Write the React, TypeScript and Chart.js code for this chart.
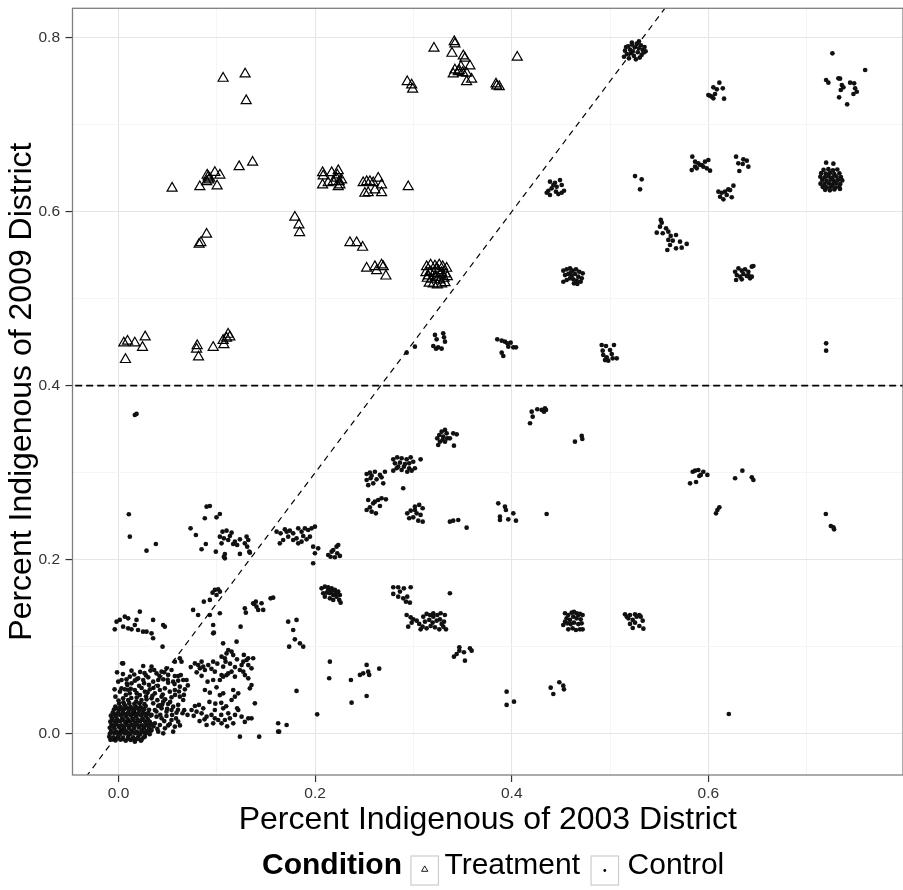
import React, { useEffect, useRef } from 'react';
import { Chart, registerables } from 'chart.js';

Chart.register(...registerables);

type Pt = [number, number];

const FONT = '"Liberation Sans", Arial, Helvetica, sans-serif';

// ---------- axes ----------
const xRange: Pt = [-0.0468, 0.798];
const yRange: Pt = [-0.0475, 0.8338];
const xMajorTicks = [0, 0.2, 0.4, 0.6];
const xMinorTicks = [0.1, 0.3, 0.5, 0.7];
const xTickLabels = ['0.0', '0.2', '0.4', '0.6'];
const yMajorTicks = [0, 0.2, 0.4, 0.6, 0.8];
const yMinorTicks = [0.1, 0.3, 0.5, 0.7];
const yTickLabels = ['0.0', '0.2', '0.4', '0.6', '0.8'];

const xTitle = 'Percent Indigenous of 2003 District';
const yTitle = 'Percent Indigenous of 2009 District';
const legendTitle = 'Condition';
const seriesNames = ['Treatment', 'Control'];

// ---------- reference lines ----------
const thresholdLine: Pt[] = [[-0.1, 0.4], [0.9, 0.4]];
const diagonalLine: Pt[] = [[-0.06, -0.09], [0.6, 0.9]];

// ---------- Treatment (triangles) ----------
const treatmentLower: Pt[] = [
  [0.0054, 0.449], [0.0092, 0.451], [0.0166, 0.449], [0.0244, 0.444], [0.0271, 0.456], [0.0071, 0.43],
  [0.08, 0.446], [0.0794, 0.442], [0.0814, 0.433], [0.0963, 0.444], [0.1064, 0.452], [0.1072, 0.447],
  [0.1115, 0.459], [0.1133, 0.456], [0.1099, 0.4545],
];
const treatmentMiddle: Pt[] = [
  [0.082, 0.5625], [0.0838, 0.5644], [0.0896, 0.574],
  [0.0545, 0.627], [0.0827, 0.6287], [0.0902, 0.642], [0.0912, 0.64], [0.0919, 0.6364], [0.0896, 0.6345],
  [0.0929, 0.6384], [0.098, 0.645], [0.1031, 0.642], [0.1003, 0.6295], [0.1227, 0.6517], [0.1364, 0.6568],
  [0.1794, 0.5936], [0.1835, 0.5847], [0.1842, 0.5759],
  [0.2076, 0.6448], [0.2082, 0.641], [0.2076, 0.6307], [0.2168, 0.6448], [0.2184, 0.6345], [0.2225, 0.6422],
  [0.2235, 0.6471], [0.2218, 0.6384], [0.2245, 0.6345], [0.2252, 0.6307], [0.2269, 0.6364], [0.2235, 0.6287],
  [0.2133, 0.6333],
  [0.2489, 0.6333], [0.2524, 0.6345], [0.2557, 0.6345], [0.2506, 0.6211], [0.254, 0.6218], [0.2608, 0.6249],
  [0.2642, 0.6384], [0.2676, 0.6307], [0.2676, 0.6218], [0.2591, 0.6333],
  [0.2947, 0.6287],
  [0.2354, 0.5644], [0.2422, 0.5644], [0.2483, 0.559],
  [0.2524, 0.535], [0.2608, 0.5368], [0.2626, 0.5322], [0.2676, 0.5387], [0.2693, 0.5368], [0.272, 0.526],
];
const treatmentUpper: Pt[] = [
  [0.1064, 0.7533], [0.1288, 0.7583], [0.1299, 0.7276],
  [0.2937, 0.7494], [0.2982, 0.7456], [0.2992, 0.7407],
  [0.3209, 0.7878], [0.3415, 0.7954], [0.3422, 0.7928], [0.3392, 0.782], [0.3507, 0.779], [0.3524, 0.7763],
  [0.3575, 0.7675], [0.3422, 0.7629], [0.3405, 0.7583], [0.3466, 0.7621], [0.3501, 0.7598], [0.3541, 0.7591],
  [0.3592, 0.7522], [0.3541, 0.7494], [0.3483, 0.7667], [0.3456, 0.7609],
  [0.4056, 0.7775], [0.384, 0.7468], [0.3873, 0.7437], [0.3847, 0.7445],
];
const treatmentCluster: Pt[] = [
  [0.3134, 0.5368], [0.3175, 0.5387], [0.3219, 0.5376], [0.3263, 0.5387], [0.3297, 0.5368], [0.3338, 0.5349],
  [0.3127, 0.5299], [0.3168, 0.531], [0.3209, 0.5291], [0.3253, 0.5322], [0.3287, 0.5299], [0.3328, 0.5284],
  [0.3141, 0.5234], [0.3185, 0.5223], [0.3229, 0.5245], [0.327, 0.5215], [0.3311, 0.5234], [0.3345, 0.5253],
  [0.3161, 0.5177], [0.3202, 0.5169], [0.3243, 0.5157], [0.3287, 0.5169], [0.3321, 0.5184], [0.3151, 0.5261],
  [0.327, 0.5272], [0.3236, 0.5349],
];

// ---------- Control (dots) ----------
const controlCore: Pt[] = [
  [-0.0082, -0.0071], [-0.0031, -0.0078], [0.0021, -0.0069], [0.0073, -0.0081], [0.0124, -0.0072], [0.0176, -0.0066], [0.0227, -0.0079],
  [-0.0094, -0.0035], [-0.0052, -0.0042], [-0.0003, -0.0031], [0.0046, -0.0044], [0.0098, -0.0036], [0.0149, -0.0041], [0.0201, -0.0033], [0.0253, -0.0045],
  [-0.0088, -0.0002], [-0.0037, 0.0006], [0.0014, -0.0008], [0.0066, 0.0003], [0.0118, -0.0005], [0.0169, 0.0007], [0.0221, -0.0004], [0.0272, 0.0005], [0.0317, -0.0006],
  [-0.0076, 0.0031], [-0.0024, 0.0024], [0.0027, 0.0036], [0.0079, 0.0027], [0.0131, 0.0033], [0.0183, 0.0025], [0.0234, 0.0037], [0.0286, 0.0029], [0.0331, 0.0034],
  [-0.0089, 0.0068], [-0.0041, 0.0062], [0.0009, 0.0071], [0.0058, 0.0059], [0.0106, 0.0067], [0.0157, 0.0061], [0.0207, 0.0072], [0.0258, 0.0064], [0.0309, 0.0069],
  [-0.0072, 0.0101], [-0.0021, 0.0108], [0.0031, 0.0097], [0.0083, 0.0105], [0.0134, 0.0099], [0.0186, 0.0107], [0.0237, 0.0096], [0.0289, 0.0103], [0.0334, 0.0109],
  [-0.0083, 0.0138], [-0.0034, 0.0131], [0.0016, 0.0142], [0.0066, 0.0134], [0.0117, 0.0139], [0.0168, 0.0128], [0.0219, 0.0141], [0.0271, 0.0133], [0.0318, 0.0137],
  [-0.0066, 0.0172], [-0.0014, 0.0166], [0.0039, 0.0176], [0.0091, 0.0169], [0.0142, 0.0174], [0.0193, 0.0165], [0.0244, 0.0177], [0.0295, 0.0168],
  [-0.0078, 0.0207], [-0.0027, 0.0201], [0.0024, 0.0211], [0.0075, 0.0203], [0.0127, 0.0209], [0.0178, 0.0198], [0.0229, 0.0212], [0.0281, 0.0204], [0.0326, 0.0208],
  [-0.0058, 0.0242], [-0.0006, 0.0236], [0.0046, 0.0247], [0.0097, 0.0238], [0.0148, 0.0244], [0.0199, 0.0235], [0.0251, 0.0246], [0.0302, 0.0239],
  [-0.0047, 0.0276], [0.0004, 0.0271], [0.0056, 0.0281], [0.0108, 0.0273], [0.0159, 0.0279], [0.0211, 0.0269], [0.0262, 0.0282], [0.0311, 0.0274],
  [-0.0032, 0.0311], [0.0019, 0.0306], [0.0071, 0.0316], [0.0122, 0.0308], [0.0174, 0.0314], [0.0226, 0.0304], [0.0277, 0.0317],
  [0.0006, 0.0346], [0.0057, 0.0341], [0.0109, 0.0351], [0.0161, 0.0343], [0.0213, 0.0349], [0.0264, 0.0339],
  [-0.0061, -0.0058], [-0.0008, -0.0055], [0.0047, -0.0061], [0.0099, -0.0057], [0.0151, -0.0062], [0.0203, -0.0056],
  [-0.0063, 0.0015], [-0.0011, 0.0013], [0.0041, 0.0017], [0.0093, 0.0012], [0.0144, 0.0016], [0.0196, 0.0013], [0.0248, 0.0018], [0.0299, 0.0014],
  [-0.0052, 0.0084], [0.0004, 0.0088], [0.0056, 0.0083], [0.0108, 0.0087], [0.0161, 0.0082], [0.0212, 0.0088], [0.0264, 0.0083], [0.0316, 0.0086],
  [-0.0058, 0.0155], [-0.0007, 0.0151], [0.0044, 0.0157], [0.0096, 0.0152], [0.0147, 0.0156], [0.0199, 0.0151], [0.0251, 0.0157], [0.0303, 0.0152],
  [-0.0043, 0.0224], [0.0009, 0.0221], [0.0061, 0.0226], [0.0112, 0.0222], [0.0164, 0.0227], [0.0215, 0.0221], [0.0267, 0.0226],
  [-0.0019, 0.0292], [0.0032, 0.0289], [0.0084, 0.0294], [0.0137, 0.0288], [0.0188, 0.0293], [0.0241, 0.0289],
];
const controlFringe: Pt[] = [
  [0.0047, 0.0808], [0.0132, 0.0724], [0.0251, 0.0778], [0.0336, 0.077], [0.0363, 0.0732], [0.0387, 0.0693],
  [0.0438, 0.0713], [0.0488, 0.0751], [0.0539, 0.0732], [0.0573, 0.0663], [0.0607, 0.0663], [0.0634, 0.0674],
  [-0.0003, 0.0598], [0.0031, 0.0617], [0.0081, 0.0625], [0.0132, 0.0579], [0.0166, 0.0609], [0.02, 0.0636],
  [0.0251, 0.0617], [0.0302, 0.0648], [0.0353, 0.0598], [0.0404, 0.0617], [0.0455, 0.0625], [0.0505, 0.0586],
  [0.0556, 0.0598], [0.0607, 0.0609], [0.0658, 0.0617], [0.0692, 0.0617],
  [0.0014, 0.0483], [0.0064, 0.051], [0.0115, 0.0464], [0.0166, 0.0502], [0.0217, 0.0444], [0.0268, 0.0483],
  [0.0319, 0.051], [0.037, 0.0464], [0.0421, 0.0502], [0.0472, 0.0521], [0.0522, 0.0483], [0.0573, 0.0502],
  [0.0624, 0.054], [0.0675, 0.051], [-0.0031, 0.0425], [0.0047, 0.0406], [0.0098, 0.0387], [0.0234, 0.0387],
  [0.0336, 0.0406], [0.0438, 0.0425], [0.0539, 0.0418], [0.0624, 0.0425],
  [0.0353, 0.0349], [0.0404, 0.0318], [0.0455, 0.0368], [0.0505, 0.0341], [0.0556, 0.031], [0.0607, 0.033],
  [0.0658, 0.0387], [0.037, 0.0272], [0.0438, 0.0291], [0.0488, 0.0253], [0.0539, 0.0272], [0.059, 0.0241],
  [0.0336, 0.0215], [0.0387, 0.0195], [0.0438, 0.0176], [0.0488, 0.0203], [0.0539, 0.0157], [0.037, 0.0119],
  [0.0421, 0.01], [0.0472, 0.0061], [0.0522, 0.0111], [0.0573, 0.008], [0.0336, 0.0042], [0.0404, 0.0023],
  [0.0455, 0.0004], [0.0556, 0.0023], [0.0607, 0.0138], [0.0268, -0.0034], [0.0234, -0.0073], [0.0166, -0.0092],
  [0.0, 0.038], [0.005, 0.036], [0.013, 0.041], [0.018, 0.037], [0.028, 0.043], [0.003, 0.052], [0.009, 0.056],
  [0.021, 0.055], [0.026, 0.058], [0.031, 0.056], [0.016, 0.068], [0.022, 0.071], [0.028, 0.067], [-0.004, 0.051],
  [0.04, 0.055], [0.045, 0.045], [0.05, 0.062], [0.057, 0.057], [0.0668, 0.027], [0.0651, 0.0235],
  [0.0075, 0.0445], [0.0125, 0.0515], [0.0185, 0.0465], [0.0235, 0.0525], [0.0295, 0.0475], [0.0345, 0.0435],
  [0.0395, 0.0385], [0.0445, 0.0335], [0.0495, 0.0285], [0.0545, 0.0215], [0.0585, 0.0175], [0.0625, 0.0095],
  [0.0385, 0.0255], [0.0425, 0.0215], [0.0465, 0.0145], [0.0505, 0.0095], [0.0355, 0.0085], [0.0395, 0.0055],
  [0.0415, 0.0325], [0.0475, 0.0395], [0.0525, 0.0365], [0.0575, 0.0445], [0.0615, 0.0485], [0.0665, 0.0445],
  [0.0705, 0.0555], [0.0115, 0.0655], [0.0185, 0.0625], [0.0265, 0.0695], [0.0325, 0.0725], [0.0415, 0.0665],
  [0.0465, 0.0705], [0.0505, 0.0675], [0.0085, 0.0575], [0.0045, 0.0685], [-0.0015, 0.0705], [0.0355, 0.0525],
  [0.0285, 0.0395], [0.0185, 0.0415], [0.0095, 0.0505], [0.0605, 0.0275],
];
const controlLeftBand: Pt[] = [
  [-0.0038, 0.12], [-0.002, 0.1287], [0.0013, 0.1307], [0.0047, 0.123], [0.0064, 0.1345], [0.0098, 0.1326],
  [0.0098, 0.1211], [0.0132, 0.12], [0.0166, 0.1249], [0.0183, 0.1307], [0.0199, 0.1192], [0.0217, 0.1402],
  [0.025, 0.1172], [0.0285, 0.1172], [0.0336, 0.1154], [0.0352, 0.1307], [0.0352, 0.1097], [0.0454, 0.1249],
  [0.0471, 0.123], [0.0448, 0.1], [0.0037, 0.0809],
  [0.0166, 0.3663], [0.0183, 0.3675], [0.0105, 0.2522], [0.0115, 0.2264], [0.0285, 0.2103], [0.038, 0.218],
];
const controlLowerMid: Pt[] = [
  [0.0777, 0.0808], [0.0811, 0.0789], [0.0845, 0.0828], [0.0862, 0.077], [0.0879, 0.0732], [0.0828, 0.0751],
  [0.0913, 0.0789], [0.0963, 0.0828], [0.098, 0.0713], [0.0963, 0.0617], [0.0906, 0.0598], [0.0879, 0.0502],
  [0.0929, 0.0471], [0.0997, 0.0533], [0.1031, 0.0617], [0.1048, 0.0674], [0.1065, 0.077], [0.1082, 0.0866],
  [0.1089, 0.0828], [0.1099, 0.0923], [0.1116, 0.0962], [0.115, 0.0943], [0.1167, 0.0904], [0.1065, 0.0655],
  [0.1099, 0.0674], [0.1116, 0.0693], [0.115, 0.0713], [0.1184, 0.0655], [0.1252, 0.0789], [0.1269, 0.0828],
  [0.1303, 0.0847], [0.132, 0.0789], [0.1353, 0.0751], [0.1269, 0.0713], [0.1286, 0.0674], [0.132, 0.0636],
  [0.1353, 0.0559], [0.1336, 0.0521], [0.1218, 0.0464], [0.1065, 0.0464], [0.1184, 0.0425], [0.1167, 0.0502],
  [0.098, 0.0272], [0.1065, 0.0291], [0.1116, 0.0234], [0.1133, 0.0176], [0.1082, 0.0157], [0.1048, 0.0119],
  [0.1014, 0.0157], [0.098, 0.0176], [0.0946, 0.0215], [0.0896, 0.0195], [0.0845, 0.0234], [0.0794, 0.0253],
  [0.0743, 0.0272], [0.0702, 0.0215], [0.0777, 0.0318], [0.0818, 0.033], [0.0862, 0.0291], [0.0896, 0.01],
  [0.0963, 0.0119], [0.1167, 0.0119], [0.1218, 0.0272], [0.1252, 0.0195], [0.132, 0.0176], [0.1353, 0.0176],
  [0.1235, -0.0034], [0.1387, 0.0349], [0.115, 0.0387], [0.1031, 0.0444],
  [0.1234, 0.0732], [0.137, 0.0867], [0.1207, 0.0292], [0.1431, -0.0034], [0.1624, 0.012], [0.171, 0.01],
  [0.1624, 0.0023], [0.1634, 0.0023], [0.1811, 0.0491], [0.2021, 0.0223], [0.215, 0.0828], [0.2143, 0.0637],
  [0.0624, 0.0866], [0.0641, 0.0828], [0.0573, 0.0828],
  [0.1064, 0.1039], [0.1201, 0.1057], [0.1319, 0.0867], [0.1048, 0.0885],
  [0.0735, 0.0765], [0.0795, 0.0705], [0.0845, 0.0665], [0.0945, 0.0745], [0.1005, 0.0805], [0.1135, 0.0805],
  [0.1205, 0.0855], [0.1275, 0.0905], [0.1185, 0.0765], [0.0925, 0.0365], [0.0985, 0.0345], [0.1045, 0.0355],
  [0.1095, 0.0315], [0.0765, 0.0205], [0.0825, 0.0145], [0.0875, 0.0165], [0.1185, 0.0215], [0.1285, 0.0135],
  [0.1045, 0.0215], [0.1105, 0.0085],
];
const controlNearDiagonal: Pt[] = [
  [0.0957, 0.1621], [0.098, 0.1652], [0.1014, 0.166], [0.1031, 0.1632], [0.0997, 0.1594], [0.0868, 0.1517],
  [0.0929, 0.1537], [0.0759, 0.1422], [0.081, 0.1364], [0.0929, 0.1364], [0.0963, 0.1249], [0.1031, 0.1384],
  [0.0963, 0.1154], [0.097, 0.1161], [0.1242, 0.123], [0.1285, 0.1441], [0.1397, 0.1517], [0.1404, 0.146],
  [0.1421, 0.1422], [0.1472, 0.1422], [0.1547, 0.1556], [0.1573, 0.1563], [0.1377, 0.1491], [0.1295, 0.1391],
  [0.137, 0.1499], [0.1455, 0.1499],
  [0.1726, 0.1287], [0.1811, 0.1307], [0.1777, 0.1192], [0.1794, 0.1085], [0.1845, 0.1039], [0.1879, 0.1],
  [0.1736, 0.1],
];
const controlBand: Pt[] = [
  [0.0896, 0.2609], [0.0929, 0.2617], [0.0878, 0.2476], [0.0997, 0.2487], [0.1031, 0.2525], [0.0733, 0.2361],
  [0.0787, 0.2284], [0.0845, 0.212], [0.0888, 0.218], [0.099, 0.2092], [0.1058, 0.2322], [0.1099, 0.2333],
  [0.115, 0.231], [0.1031, 0.2264], [0.1072, 0.2245], [0.1116, 0.2226], [0.1166, 0.218], [0.1207, 0.2169],
  [0.1235, 0.2234], [0.1303, 0.2264], [0.132, 0.2226], [0.1309, 0.2149], [0.133, 0.2092], [0.1235, 0.2066],
  [0.1048, 0.2188], [0.1133, 0.2272], [0.1184, 0.2207], [0.1285, 0.2188], [0.1072, 0.2034], [0.1082, 0.2016],
  [0.1082, 0.2065], [0.1336, 0.208],
  [0.1608, 0.2322], [0.1649, 0.2303], [0.1692, 0.2349], [0.171, 0.2322], [0.1743, 0.2333], [0.1777, 0.2303],
  [0.1828, 0.2361], [0.1862, 0.2322], [0.1896, 0.2361], [0.1929, 0.2341], [0.1964, 0.2361], [0.1998, 0.2379],
  [0.1641, 0.2188], [0.1675, 0.2226], [0.1777, 0.2226], [0.1828, 0.2188], [0.1862, 0.2207], [0.1913, 0.2234],
  [0.198, 0.2149], [0.2031, 0.2131], [0.1998, 0.2074], [0.198, 0.1959], [0.1726, 0.2264], [0.1811, 0.2246],
  [0.1879, 0.2272], [0.1947, 0.2264],
  [0.2133, 0.2054], [0.2157, 0.2034], [0.2184, 0.2111], [0.2218, 0.2149], [0.2225, 0.2074], [0.2252, 0.2043],
  [0.2201, 0.2028], [0.2235, 0.2169], [0.2168, 0.2092],
];
const controlLowClusters: Pt[] = [
  [0.2066, 0.1671], [0.2099, 0.169], [0.2133, 0.1683], [0.2168, 0.1671], [0.2201, 0.1652], [0.2235, 0.1632],
  [0.2252, 0.1594], [0.2082, 0.1614], [0.2117, 0.1621], [0.215, 0.1614], [0.2184, 0.1594], [0.2218, 0.1575],
  [0.2245, 0.1537], [0.2259, 0.1506], [0.2184, 0.1537], [0.215, 0.1556], [0.2099, 0.1575], [0.2133, 0.1652],
  [0.2168, 0.1632], [0.2211, 0.1614],
  [0.2795, 0.1683], [0.2845, 0.1683], [0.2903, 0.1671], [0.2972, 0.1683], [0.2795, 0.1606], [0.2845, 0.1575],
  [0.2896, 0.1556], [0.2924, 0.1517], [0.2964, 0.1506], [0.2863, 0.1633], [0.2937, 0.1575],
  [0.2931, 0.1364], [0.2972, 0.1338], [0.2998, 0.1315], [0.3033, 0.1299], [0.2982, 0.1276], [0.2947, 0.123],
  [0.3059, 0.1261], [0.3073, 0.12],
  [0.31, 0.1345], [0.3134, 0.1376], [0.3168, 0.1364], [0.3202, 0.1384], [0.3243, 0.1364], [0.3277, 0.1384],
  [0.332, 0.1364], [0.3117, 0.1288], [0.3161, 0.1307], [0.3195, 0.1276], [0.3236, 0.1299], [0.327, 0.1315],
  [0.3311, 0.1288], [0.3093, 0.123], [0.3134, 0.1211], [0.3175, 0.1238], [0.3219, 0.1223], [0.3263, 0.12],
  [0.3304, 0.123], [0.3331, 0.12], [0.3202, 0.1345], [0.3287, 0.1261],
  [0.3371, 0.1614],
  [0.2364, 0.0617], [0.2456, 0.0675], [0.2489, 0.0694], [0.2524, 0.079], [0.254, 0.0713], [0.255, 0.0675],
  [0.2524, 0.0433], [0.2371, 0.0356], [0.2652, 0.0747],
  [0.3412, 0.0885], [0.344, 0.0916], [0.3467, 0.0993], [0.3467, 0.0954], [0.3514, 0.0936], [0.3524, 0.0839],
  [0.3575, 0.0982], [0.3592, 0.0954],
  [0.3948, 0.0483], [0.3948, 0.033], [0.4023, 0.0368],
  [0.4396, 0.0529], [0.4423, 0.0456], [0.4484, 0.0591], [0.4524, 0.0552], [0.4531, 0.051],
  [0.6208, 0.0226],
];
const controlRightLow: Pt[] = [
  [0.4542, 0.1384], [0.4575, 0.1364], [0.461, 0.1391], [0.4633, 0.1399], [0.466, 0.1384], [0.4694, 0.1376],
  [0.4721, 0.1364], [0.4558, 0.1326], [0.4592, 0.1307], [0.4626, 0.1345], [0.466, 0.1326], [0.4701, 0.1315],
  [0.4524, 0.1249], [0.4565, 0.1268], [0.4599, 0.126], [0.4633, 0.1276], [0.4677, 0.126], [0.4711, 0.1268],
  [0.4575, 0.1199], [0.4619, 0.1211], [0.4653, 0.1192], [0.4694, 0.1199], [0.4721, 0.1199], [0.4542, 0.1288],
  [0.4677, 0.1364],
  [0.5152, 0.1372], [0.5203, 0.1364], [0.5254, 0.1372], [0.5298, 0.1364], [0.5312, 0.1345], [0.5186, 0.1326],
  [0.5231, 0.1307], [0.5332, 0.1299], [0.5203, 0.1261], [0.5254, 0.1276], [0.5298, 0.1238], [0.5339, 0.1207],
  [0.5231, 0.1215], [0.517, 0.1345], [0.5271, 0.1345],
];
const controlCenter: Pt[] = [
  [0.2524, 0.2985], [0.2557, 0.3], [0.2608, 0.3011], [0.2659, 0.2974], [0.271, 0.3011], [0.2524, 0.2916],
  [0.2564, 0.2936], [0.2625, 0.2924], [0.2676, 0.2947], [0.254, 0.2857], [0.2591, 0.2878], [0.2693, 0.2878],
  [0.2575, 0.2966],
  [0.2795, 0.3154], [0.2835, 0.3177], [0.288, 0.3166], [0.2931, 0.3154], [0.2972, 0.3177], [0.3073, 0.3154],
  [0.2812, 0.3108], [0.2863, 0.3115], [0.2914, 0.31], [0.2957, 0.3108], [0.2998, 0.3126], [0.2829, 0.3051],
  [0.288, 0.3031], [0.2937, 0.3011], [0.2982, 0.3023], [0.3015, 0.3051], [0.2795, 0.3023], [0.2845, 0.3069],
  [0.2903, 0.3069], [0.2957, 0.3051], [0.2896, 0.2821],
  [0.2524, 0.2571], [0.2557, 0.2602], [0.2591, 0.2648], [0.2642, 0.2686], [0.2676, 0.2706], [0.272, 0.2694],
  [0.254, 0.2686], [0.2575, 0.2552], [0.2618, 0.2533], [0.2659, 0.2617], [0.2608, 0.2667],
  [0.2937, 0.2533], [0.2972, 0.2563], [0.3015, 0.2609], [0.3059, 0.2629], [0.3094, 0.2591], [0.3033, 0.2533],
  [0.3073, 0.2514], [0.2957, 0.2476], [0.2998, 0.2487], [0.3049, 0.2448], [0.3094, 0.2437], [0.3015, 0.2571],
  [0.3242, 0.3395], [0.3263, 0.3433], [0.3287, 0.3471], [0.3321, 0.3491], [0.3338, 0.3453], [0.3303, 0.3414],
  [0.327, 0.3356], [0.3252, 0.3318], [0.3321, 0.3356], [0.3297, 0.3376], [0.3344, 0.3395], [0.3371, 0.3395],
  [0.3405, 0.3453], [0.344, 0.3441], [0.3412, 0.331],
  [0.3371, 0.2437], [0.3405, 0.2448], [0.3456, 0.2456], [0.3541, 0.2368],
];
const controlRightMid: Pt[] = [
  [0.4186, 0.3568], [0.4213, 0.3644], [0.4203, 0.3701], [0.426, 0.3729], [0.4305, 0.3721], [0.4328, 0.3701],
  [0.4348, 0.3721], [0.4338, 0.374],
  [0.4643, 0.3356], [0.4712, 0.3422], [0.4718, 0.3387],
  [0.3863, 0.2648], [0.3931, 0.2609], [0.3941, 0.2571], [0.388, 0.2494], [0.388, 0.2456], [0.3965, 0.2464],
  [0.4016, 0.2533], [0.4043, 0.2448], [0.4355, 0.2525],
  [0.5814, 0.2878], [0.5875, 0.2893], [0.5841, 0.3011], [0.5898, 0.3031], [0.5923, 0.2974], [0.5865, 0.3023],
  [0.5949, 0.3011], [0.599, 0.2974], [0.5908, 0.2962],
  [0.6272, 0.2936], [0.6346, 0.3023], [0.6442, 0.2947], [0.6458, 0.2916],
  [0.6078, 0.2533], [0.6092, 0.2571], [0.6112, 0.2602],
  [0.7195, 0.2525], [0.7246, 0.2387], [0.7272, 0.2372], [0.7279, 0.2349],
];
const controlAboveLine: Pt[] = [
  [0.2931, 0.4379], [0.3015, 0.4448],
  [0.3219, 0.4583], [0.3303, 0.4602], [0.3236, 0.4533], [0.3311, 0.4556], [0.3321, 0.4506], [0.3202, 0.4456],
  [0.3252, 0.4441], [0.3287, 0.4425], [0.323, 0.4425],
  [0.3853, 0.4533], [0.3898, 0.4517], [0.3931, 0.4506], [0.3955, 0.4487], [0.3989, 0.4494], [0.4016, 0.4441],
  [0.4043, 0.4441], [0.3965, 0.4448], [0.3898, 0.4379], [0.3914, 0.4341],
  [0.4915, 0.4468], [0.4959, 0.4456], [0.504, 0.4468], [0.4925, 0.4402], [0.5, 0.441], [0.4931, 0.4353],
  [0.4966, 0.4326], [0.5027, 0.4315], [0.5068, 0.4315], [0.4982, 0.4287], [0.4949, 0.4295], [0.5017, 0.4364],
  [0.7198, 0.4487], [0.7198, 0.4402],
];
const controlUpperMid: Pt[] = [
  [0.4389, 0.6345], [0.444, 0.6333], [0.4491, 0.6364], [0.4508, 0.6307], [0.4457, 0.6287], [0.4406, 0.6269],
  [0.4356, 0.6218], [0.4389, 0.6192], [0.445, 0.623], [0.4508, 0.6218], [0.4532, 0.6241], [0.4474, 0.6203],
  [0.4372, 0.6241], [0.4423, 0.6307],
  [0.5254, 0.641], [0.5322, 0.6372], [0.5305, 0.6257],
  [0.5516, 0.5905], [0.5526, 0.5874], [0.5508, 0.5828], [0.557, 0.5809], [0.5593, 0.577], [0.5475, 0.5759],
  [0.5536, 0.5752], [0.5617, 0.5721], [0.5671, 0.5732], [0.5593, 0.5675], [0.5638, 0.5667], [0.5712, 0.5655],
  [0.578, 0.5629], [0.561, 0.5617], [0.5671, 0.5579], [0.5729, 0.5586], [0.5583, 0.556],
  [0.4525, 0.5322], [0.4559, 0.5338], [0.4593, 0.5349], [0.462, 0.5322], [0.4654, 0.5338], [0.4687, 0.531],
  [0.4722, 0.5292], [0.4542, 0.5272], [0.4575, 0.5284], [0.461, 0.5261], [0.4644, 0.5284], [0.4677, 0.5253],
  [0.4712, 0.5234], [0.4525, 0.5195], [0.4559, 0.5215], [0.4593, 0.5234], [0.4633, 0.5177], [0.4667, 0.5169],
  [0.4701, 0.5195], [0.4599, 0.5299], [0.4626, 0.5223], [0.4661, 0.5207],
  [0.6272, 0.531], [0.6306, 0.5349], [0.634, 0.5322], [0.6373, 0.5338], [0.6407, 0.531], [0.6442, 0.5368],
  [0.6458, 0.5376], [0.6289, 0.5272], [0.6323, 0.5253], [0.6356, 0.5284], [0.6391, 0.5261], [0.6424, 0.5234],
  [0.6282, 0.5215], [0.634, 0.5223], [0.6407, 0.5272], [0.6442, 0.5253],
  [0.5837, 0.6632], [0.5865, 0.6575], [0.5898, 0.6556], [0.5933, 0.6537], [0.5966, 0.6575], [0.6, 0.6594],
  [0.5831, 0.6479], [0.5882, 0.6499], [0.5949, 0.6517], [0.6017, 0.6471], [0.5916, 0.6537], [0.5865, 0.6517],
  [0.5984, 0.6499],
  [0.6282, 0.6632], [0.6356, 0.6602], [0.6391, 0.6586], [0.6305, 0.6556], [0.635, 0.6548], [0.6407, 0.6517],
  [0.6315, 0.6468],
  [0.6255, 0.6299], [0.6203, 0.6257], [0.617, 0.623], [0.6136, 0.6218], [0.6102, 0.623], [0.6119, 0.6172],
  [0.6153, 0.6142], [0.6187, 0.6192], [0.6238, 0.6166], [0.6221, 0.6249],
  [0.7172, 0.6481], [0.7221, 0.6489], [0.7268, 0.6476], [0.7312, 0.6485],
  [0.7148, 0.6443], [0.7195, 0.6437], [0.7239, 0.6449], [0.7281, 0.6431], [0.7333, 0.6442],
  [0.7139, 0.6402], [0.7183, 0.6396], [0.7224, 0.6408], [0.7262, 0.6391], [0.7303, 0.6404], [0.7348, 0.6398],
  [0.7158, 0.6363], [0.7201, 0.6357], [0.7243, 0.6368], [0.7279, 0.6352], [0.7321, 0.6366], [0.7362, 0.6359],
  [0.7141, 0.6322], [0.7182, 0.6318], [0.7226, 0.6327], [0.7264, 0.6314], [0.7302, 0.6325], [0.7342, 0.6318],
  [0.7163, 0.6284], [0.7204, 0.6279], [0.7247, 0.6287], [0.7291, 0.6276], [0.7331, 0.6283],
  [0.7188, 0.6251], [0.7236, 0.6246], [0.7282, 0.6255], [0.7339, 0.6262],
  [0.7198, 0.6563], [0.7272, 0.6552],
];
const controlTop: Pt[] = [
  [0.5152, 0.7851], [0.5183, 0.7902], [0.5204, 0.7862], [0.5223, 0.7921], [0.5251, 0.7889], [0.5272, 0.7931],
  [0.5293, 0.7878], [0.5314, 0.7912], [0.5332, 0.7859], [0.5351, 0.7893], [0.5171, 0.7812], [0.5212, 0.7822],
  [0.5243, 0.7791], [0.5282, 0.7833], [0.5321, 0.7802], [0.5343, 0.7831], [0.5142, 0.7781], [0.5192, 0.7763],
  [0.5263, 0.7752], [0.5302, 0.7772], [0.5232, 0.7842], [0.5362, 0.7844], [0.5163, 0.7893], [0.5222, 0.7943],
  [0.5294, 0.7957],
  [0.6112, 0.7483], [0.6051, 0.743], [0.6086, 0.7407], [0.6147, 0.7418], [0.6, 0.7341], [0.6035, 0.7322],
  [0.6051, 0.7303], [0.6068, 0.7353], [0.616, 0.7299], [0.6017, 0.7333],
  [0.7262, 0.782], [0.7595, 0.7629], [0.7198, 0.7514], [0.7221, 0.7483], [0.7323, 0.7533], [0.734, 0.7529],
  [0.7358, 0.7456], [0.7374, 0.743], [0.7347, 0.7399], [0.7442, 0.7483], [0.7483, 0.7476], [0.7493, 0.7418],
  [0.751, 0.7379], [0.7476, 0.7353], [0.733, 0.7315], [0.7412, 0.7234],
];

// ---------- helpers ----------
const toXY = (arr: Pt[]) => arr.map(([x, y]) => ({ x, y }));
const near = (v: number, list: number[]) => list.findIndex((m) => Math.abs(m - v) < 1e-6);

const treatmentPoints = [...treatmentLower, ...treatmentMiddle, ...treatmentUpper, ...treatmentCluster];
const controlPoints = [
  ...controlCore, ...controlFringe, ...controlLeftBand, ...controlLowerMid, ...controlNearDiagonal,
  ...controlBand, ...controlLowClusters, ...controlRightLow, ...controlCenter, ...controlRightMid,
  ...controlAboveLine, ...controlUpperMid, ...controlTop,
];

function drawLegend(ctx: CanvasRenderingContext2D) {
  const cy = 866;
  const boxTop = 856;
  const boxH = 29;
  const boxW = 27.5;
  let x = 262;
  ctx.save();
  ctx.textBaseline = 'middle';
  ctx.textAlign = 'left';
  ctx.fillStyle = '#000';
  ctx.font = `bold 30px ${FONT}`;
  ctx.fillText(legendTitle, x, cy);
  x += ctx.measureText(legendTitle).width + 9;

  const drawBox = (bx: number) => {
    ctx.fillStyle = '#fff';
    ctx.fillRect(bx, boxTop, boxW, boxH);
    ctx.strokeStyle = '#cccccc';
    ctx.lineWidth = 1.2;
    ctx.strokeRect(bx, boxTop, boxW, boxH);
  };
  drawBox(x);
  {
    const cx = x + boxW / 2;
    const ty = boxTop + boxH / 2 - 1;
    const r = 3.6;
    ctx.beginPath();
    ctx.moveTo(cx, ty - r);
    ctx.lineTo(cx + r * 0.866, ty + r * 0.5);
    ctx.lineTo(cx - r * 0.866, ty + r * 0.5);
    ctx.closePath();
    ctx.strokeStyle = '#000';
    ctx.lineWidth = 0.9;
    ctx.stroke();
  }
  x += boxW + 6;
  ctx.fillStyle = '#000';
  ctx.font = `30px ${FONT}`;
  ctx.fillText(seriesNames[0], x, cy);
  x += ctx.measureText(seriesNames[0]).width + 11;
  drawBox(x);
  ctx.beginPath();
  ctx.arc(x + boxW / 2, boxTop + boxH / 2, 1.4, 0, Math.PI * 2);
  ctx.fillStyle = '#000';
  ctx.fill();
  x += boxW + 9;
  ctx.fillStyle = '#000';
  ctx.font = `30px ${FONT}`;
  ctx.fillText(seriesNames[1], x, cy);
  ctx.restore();
}

const panelPlugin = {
  id: 'panelDecor',
  beforeDraw(chart: any) {
    const { ctx, width, height } = chart;
    ctx.save();
    ctx.fillStyle = '#ffffff';
    ctx.fillRect(0, 0, width, height);
    ctx.restore();
  },
  afterDatasetsDraw(chart: any) {
    const { ctx, chartArea: a } = chart;
    ctx.save();
    ctx.strokeStyle = '#7f7f7f';
    ctx.lineWidth = 1.3;
    ctx.strokeRect(a.left, a.top, a.right - a.left, a.bottom - a.top);
    ctx.restore();
  },
  afterDraw(chart: any) {
    drawLegend(chart.ctx);
  },
};

const zeroPad = (s: any) => {
  s.paddingLeft = 0;
  s.paddingRight = 0;
  s.paddingTop = 0;
  s.paddingBottom = 0;
};

export default function App() {
  const ref = useRef<HTMLCanvasElement>(null);

  useEffect(() => {
    const canvas = ref.current;
    if (!canvas) return;
    const tickFont = { family: FONT, size: 15.5 };
    const chart = new Chart(canvas, {
      type: 'scatter',
      data: {
        datasets: [
          {
            label: 'threshold',
            data: toXY(thresholdLine),
            showLine: true,
            borderColor: '#000',
            borderWidth: 1.8,
            borderDash: [7, 4],
            pointRadius: 0,
            order: 0,
            clip: 0,
          } as any,
          {
            label: 'diagonal',
            data: toXY(diagonalLine),
            showLine: true,
            borderColor: '#000',
            borderWidth: 1.2,
            borderDash: [6, 5],
            pointRadius: 0,
            order: 0,
            clip: 0,
          } as any,
          {
            label: seriesNames[0],
            data: toXY(treatmentPoints),
            pointStyle: 'triangle',
            pointRadius: 5.8,
            borderColor: '#000',
            borderWidth: 1.2,
            backgroundColor: 'rgba(0,0,0,0)',
            order: 2,
          } as any,
          {
            label: seriesNames[1],
            data: toXY(controlPoints),
            pointStyle: 'circle',
            pointRadius: 2.35,
            borderWidth: 0,
            backgroundColor: '#111',
            order: 1,
          } as any,
        ],
      },
      options: {
        responsive: false,
        devicePixelRatio: 1,
        animation: false,
        events: [],
        layout: { autoPadding: false, padding: { top: 8.3, right: 0, bottom: 0, left: 0 } },
        plugins: { legend: { display: false }, tooltip: { enabled: false } },
        scales: {
          x: {
            type: 'linear',
            min: xRange[0],
            max: xRange[1],
            afterBuildTicks: (s: any) => {
              s.ticks = [...xMajorTicks, ...xMinorTicks].sort((a, b) => a - b).map((v) => ({ value: v }));
            },
            afterFit: (s: any) => {
              s.height = 115;
              zeroPad(s);
            },
            border: { display: false },
            grid: {
              color: (c: any) => (c.tick && near(c.tick.value, xMajorTicks) >= 0 ? '#e5e5e5' : '#f4f4f4'),
              lineWidth: (c: any) => (c.tick && near(c.tick.value, xMajorTicks) >= 0 ? 1.1 : 0.9),
              tickColor: (c: any) => (c.tick && near(c.tick.value, xMajorTicks) >= 0 ? '#333' : 'rgba(0,0,0,0)'),
              tickLength: 7,
              tickWidth: 1.2,
            },
            ticks: {
              autoSkip: false,
              maxRotation: 0,
              minRotation: 0,
              padding: 2,
              color: '#333',
              font: tickFont,
              callback: (v: any) => {
                const i = near(Number(v), xMajorTicks);
                return i >= 0 ? xTickLabels[i] : '';
              },
            },
            title: {
              display: true,
              text: xTitle,
              color: '#000',
              font: { family: FONT, size: 32, lineHeight: 1 },
              padding: { top: 0, bottom: 54 },
            },
          },
          y: {
            type: 'linear',
            position: 'left',
            min: yRange[0],
            max: yRange[1],
            afterBuildTicks: (s: any) => {
              s.ticks = [...yMajorTicks, ...yMinorTicks].sort((a, b) => a - b).map((v) => ({ value: v }));
            },
            afterFit: (s: any) => {
              s.width = 72.5;
              zeroPad(s);
            },
            border: { display: false },
            grid: {
              color: (c: any) => (c.tick && near(c.tick.value, yMajorTicks) >= 0 ? '#e5e5e5' : '#f4f4f4'),
              lineWidth: (c: any) => (c.tick && near(c.tick.value, yMajorTicks) >= 0 ? 1.1 : 0.9),
              tickColor: (c: any) => (c.tick && near(c.tick.value, yMajorTicks) >= 0 ? '#333' : 'rgba(0,0,0,0)'),
              tickLength: 7,
              tickWidth: 1.2,
            },
            ticks: {
              autoSkip: false,
              padding: 5.5,
              color: '#333',
              font: tickFont,
              callback: (v: any) => {
                const i = near(Number(v), yMajorTicks);
                return i >= 0 ? yTickLabels[i] : '';
              },
            },
            title: {
              display: true,
              text: yTitle,
              color: '#000',
              font: { family: FONT, size: 32, lineHeight: 1 },
              padding: { top: 6.5, bottom: 0 },
            },
          },
        },
      } as any,
      plugins: [panelPlugin as any],
    });
    return () => chart.destroy();
  }, []);

  return (
    <div style={{ position: 'absolute', left: 0, top: 0, width: 903, height: 890, background: '#fff' }}>
      <canvas ref={ref} width={903} height={890} style={{ display: 'block', width: 903, height: 890 }} />
    </div>
  );
}
